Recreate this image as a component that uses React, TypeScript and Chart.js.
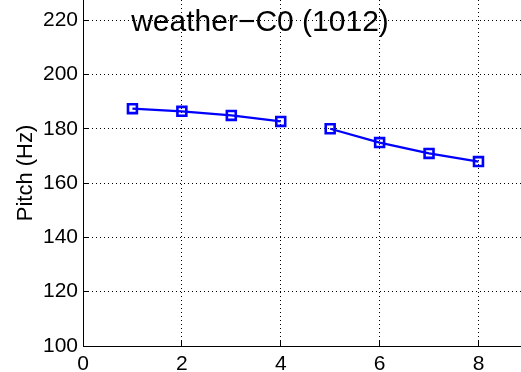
import React, { useEffect, useRef } from "react";
import { Chart, registerables } from "chart.js";

Chart.register(...registerables);

const chartTitle = "weather\u2212C0 (1012)";
const yAxisLabel = "Pitch (Hz)";
const seg1X = [1, 2, 3, 4];
const seg1Pitch = [187.4, 186.4, 184.9, 182.7];
const seg2X = [5, 6, 7, 8];
const seg2Pitch = [180.0, 174.9, 170.9, 167.9];
const xTickValues = [0, 2, 4, 6, 8];
const yTickValues = [100, 120, 140, 160, 180, 200, 220];
const xMin = 0;
const xMax = 8.86;
const yMin = 100;
const yMax = 227.4;

const FONT = "'Liberation Sans', Arial, Helvetica, sans-serif";

const titlePlugin = {
  id: "insideTitle",
  afterDraw(chart: any) {
    const ctx = chart.ctx;
    ctx.save();
    ctx.font = `30px ${FONT}`;
    ctx.fillStyle = "#000";
    ctx.textAlign = "center";
    ctx.textBaseline = "alphabetic";
    ctx.fillText(chartTitle, 260, 31);
    ctx.restore();
  },
};

export default function App() {
  const ref = useRef<HTMLCanvasElement | null>(null);

  useEffect(() => {
    if (!ref.current) return;
    const mkData = (xs: number[], ys: number[]) => xs.map((x, i) => ({ x, y: ys[i] }));
    const dsStyle = {
      borderColor: "#0000ff",
      backgroundColor: "rgba(0,0,0,0)",
      borderWidth: 2.2,
      pointStyle: "rect",
      pointRadius: 6.3,
      pointBorderWidth: 2.6,
      pointBorderColor: "#0000ff",
      pointBackgroundColor: "rgba(0,0,0,0)",
      tension: 0,
      fill: false,
    };
    const gridColor = (zeroVal: number) => (c: any) =>
      c.tick && c.tick.value === zeroVal ? "rgba(0,0,0,0)" : "#000";

    const chart = new Chart(ref.current, {
      type: "line",
      data: {
        datasets: [
          { label: "seg1", data: mkData(seg1X, seg1Pitch), ...dsStyle } as any,
          { label: "seg2", data: mkData(seg2X, seg2Pitch), ...dsStyle } as any,
        ],
      },
      options: {
        animation: false,
        responsive: false,
        devicePixelRatio: 1,
        layout: { padding: 0, autoPadding: false },
        plugins: {
          legend: { display: false },
          tooltip: { enabled: false },
          title: { display: false },
        },
        scales: {
          x: {
            type: "linear",
            min: xMin,
            max: xMax,
            position: "bottom",
            afterBuildTicks: (s: any) => {
              s.ticks = xTickValues.map((v) => ({ value: v }));
            },
            afterFit: (s: any) => {
              s.height = 26;
              s.paddingLeft = 0;
              s.paddingRight = 0;
            },
            grid: {
              color: gridColor(xMin),
              lineWidth: 1,
              drawTicks: true,
              tickLength: -5,
              tickColor: "#000",
            },
            border: { display: true, color: "#000", width: 1, dash: [1, 3] },
            ticks: {
              font: { family: FONT, size: 21 },
              color: "#000",
              padding: 11,
              maxRotation: 0,
              autoSkip: false,
            },
          },
          y: {
            type: "linear",
            min: yMin,
            max: yMax,
            position: "left",
            afterBuildTicks: (s: any) => {
              s.ticks = yTickValues.map((v) => ({ value: v }));
            },
            afterFit: (s: any) => {
              s.width = 83;
              s.paddingTop = 0;
              s.paddingBottom = 0;
            },
            grid: {
              color: gridColor(yMin),
              lineWidth: 1,
              drawTicks: true,
              tickLength: -5,
              tickColor: "#000",
            },
            border: { display: true, color: "#000", width: 1, dash: [1, 3] },
            ticks: {
              font: { family: FONT, size: 21 },
              color: "#000",
              padding: 10,
              autoSkip: false,
            },
            title: {
              display: true,
              text: yAxisLabel,
              font: { family: FONT, size: 22 },
              color: "#000",
              padding: { top: 13, bottom: 0 },
            },
          },
        },
      },
      plugins: [titlePlugin],
    } as any);
    return () => chart.destroy();
  }, []);

  return (
    <div style={{ position: "absolute", left: 0, top: 0, width: 521, height: 372, background: "#fff" }}>
      <canvas ref={ref} width={521} height={372} />
    </div>
  );
}
